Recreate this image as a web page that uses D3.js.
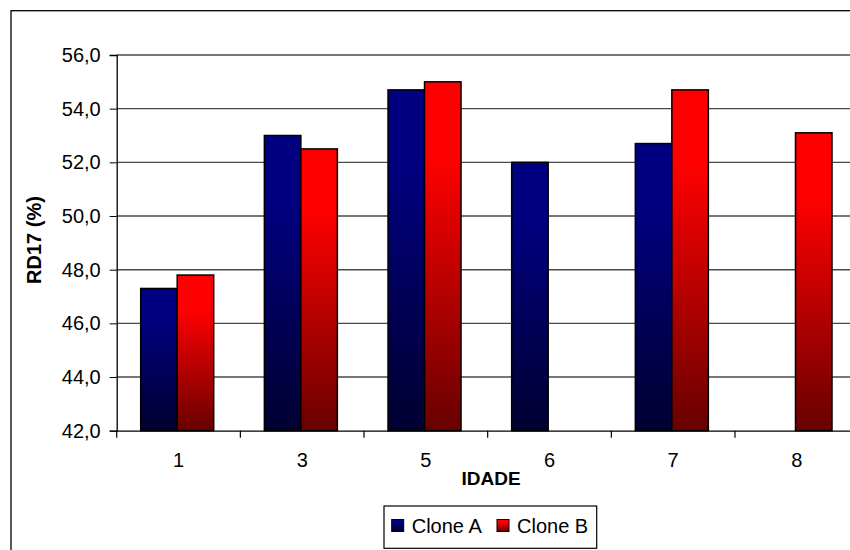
<!DOCTYPE html>
<html>
<head>
<meta charset="utf-8">
<script src="https://cdn.jsdelivr.net/npm/d3@7"></script>
<style>
	body { margin: 0; background: #fff; }
	svg { display: block; font-family: "Liberation Sans", Arial, sans-serif; }
</style>
</head>
<body>
<svg id="chart" width="850" height="550"></svg>
<script>
// dados
var idades = ["1", "3", "5", "6", "7", "8"];
var series = ["Clone A", "Clone B"];
var cloneA = [47.3, 53.0, 54.7, 52.0, 52.7, null];
var cloneB = [47.8, 52.5, 55.0, null, 54.7, 53.1];
var yTicks = [42, 44, 46, 48, 50, 52, 54, 56];

var svg = d3.select("#chart");
var plotLeft = 116.7, plotTop = 55, plotBottom = 430.7, band = 123.66;

var x = d3.scaleBand().domain(idades).range([plotLeft, plotLeft + band * idades.length]);
var xs = d3.scaleBand().domain(series).range([24, 97]);
var y = d3.scaleLinear().domain([42, 56]).range([plotBottom, plotTop]);
var pt = d3.formatLocale({decimal: ",", thousands: ".", grouping: [3], currency: ["", ""]});
var fmt = pt.format(".1f");

// gradientes das barras
var defs = svg.append("defs");
var grads = [{id: "gA", c1: "#000080", c2: "#000030"}, {id: "gB", c1: "#ff0000", c2: "#680000"}];
grads.forEach(function(g) {
	var lg = defs.append("linearGradient").attr("id", g.id).attr("x1", 0).attr("y1", 0).attr("x2", 0).attr("y2", 1);
	lg.append("stop").attr("offset", "0%").attr("stop-color", g.c1);
	lg.append("stop").attr("offset", "22%").attr("stop-color", g.c1);
	lg.append("stop").attr("offset", "100%").attr("stop-color", g.c2);
});

// moldura externa
svg.append("rect").attr("x", 11).attr("y", 10.7).attr("width", 900).attr("height", 600)
	.attr("fill", "#fff").attr("stroke", "#000").attr("stroke-width", 1.3);

// grade
svg.append("g").selectAll("line").data(yTicks.slice(1)).enter().append("line")
	.attr("x1", plotLeft).attr("x2", 860)
	.attr("y1", function(d) { return y(d); }).attr("y2", function(d) { return y(d); })
	.attr("stroke", "#4a4a4a").attr("stroke-width", 1.4);

// barras
var rows = idades.map(function(k, i) { return {k: k, vals: [cloneA[i], cloneB[i]]}; });
var g = svg.append("g").selectAll("g").data(rows).enter().append("g")
	.attr("transform", function(d) { return "translate(" + x(d.k) + ",0)"; });
g.selectAll("rect").data(function(d) {
		return d.vals.map(function(v, j) { return {s: series[j], v: v, j: j}; }).filter(function(e) { return e.v != null; });
	}).enter().append("rect")
	.attr("x", function(d) { return xs(d.s); })
	.attr("width", xs.bandwidth())
	.attr("y", function(d) { return y(d.v); })
	.attr("height", function(d) { return plotBottom - y(d.v); })
	.attr("fill", function(d) { return d.j == 0 ? "url(#gA)" : "url(#gB)"; })
	.attr("stroke", "#000").attr("stroke-width", 1.5);

// eixos
var yAxis = d3.axisLeft(y).tickValues(yTicks).tickFormat(fmt).tickSize(7).tickPadding(9);
var ya = svg.append("g").attr("transform", "translate(" + plotLeft + ",0)").call(yAxis);
ya.select(".domain").attr("stroke", "#000").attr("stroke-width", 1.3);
ya.selectAll("text").attr("font-size", 20).attr("font-family", "Liberation Sans").attr("fill", "#000");

var xAxis = d3.axisBottom(x).tickSize(0).tickPadding(22);
var xa = svg.append("g").attr("transform", "translate(0," + plotBottom + ")").call(xAxis);
xa.select(".domain").attr("stroke", "#000").attr("stroke-width", 1.3);
xa.selectAll("text").attr("font-size", 20).attr("font-family", "Liberation Sans").attr("fill", "#000");
xa.selectAll(".sep").data(idades).enter().append("line").attr("class", "sep")
	.attr("x1", function(d) { return x(d); }).attr("x2", function(d) { return x(d); })
	.attr("y1", 0).attr("y2", 7).attr("stroke", "#000").attr("stroke-width", 1.2);

// titulos dos eixos
svg.append("text").attr("x", 491).attr("y", 485).attr("text-anchor", "middle")
	.attr("font-size", 19).attr("font-weight", "bold").text("IDADE");
svg.append("text").attr("transform", "translate(41,240) rotate(-90)").attr("text-anchor", "middle")
	.attr("font-size", 20).attr("font-weight", "bold").text("RD17 (%)");

// legenda
var leg = svg.append("g").attr("transform", "translate(384,506)");
leg.append("rect").attr("width", 212.7).attr("height", 42.3).attr("fill", "#fff").attr("stroke", "#000").attr("stroke-width", 1.2);
var offs = [7.7, 113];
series.forEach(function(s, i) {
	leg.append("rect").attr("x", offs[i]).attr("y", 13.5).attr("width", 12).attr("height", 12)
		.attr("fill", i == 0 ? "url(#gA)" : "url(#gB)").attr("stroke", "#000").attr("stroke-width", 1);
	leg.append("text").attr("x", offs[i] + 20).attr("y", 26.5).attr("font-size", 20).text(s);
});
</script>
</body>
</html>
